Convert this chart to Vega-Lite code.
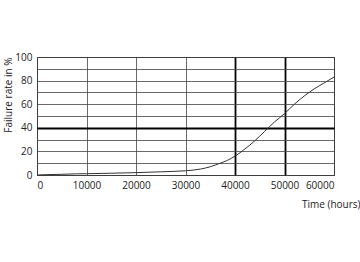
{
  "$schema": "https://vega.github.io/schema/vega-lite/v6.json",
  "width": 297,
  "height": 118,
  "autosize": {"type": "none"},
  "padding": {"left": 37, "top": 57, "right": 26, "bottom": 87},
  "background": "white",
  "config": {
    "view": {"stroke": "#222", "strokeWidth": 1},
    "font": "Open Sans",
    "axis": {"labelFont": "Open Sans", "titleFont": "Open Sans", "labelColor": "#222", "titleColor": "#222", "labelFontSize": 10, "titleFontSize": 10, "titleFontWeight": "normal", "ticks": false, "domain": false}
  },
  "data": {"values": [
    {"t": 0, "r": 0},
    {"t": 2000, "r": 0.3},
    {"t": 5000, "r": 0.6},
    {"t": 8000, "r": 1.0},
    {"t": 10000, "r": 1.1},
    {"t": 15000, "r": 1.5},
    {"t": 20000, "r": 2.0},
    {"t": 25000, "r": 2.7},
    {"t": 30000, "r": 3.6},
    {"t": 33000, "r": 5.0},
    {"t": 35000, "r": 7.0},
    {"t": 37000, "r": 10.0},
    {"t": 38500, "r": 12.5},
    {"t": 40000, "r": 16},
    {"t": 42000, "r": 22},
    {"t": 44000, "r": 29},
    {"t": 46000, "r": 37},
    {"t": 48000, "r": 45},
    {"t": 50000, "r": 52},
    {"t": 52000, "r": 60},
    {"t": 54000, "r": 67},
    {"t": 56000, "r": 73},
    {"t": 58000, "r": 78},
    {"t": 60000, "r": 83}
  ]},
  "mark": {"type": "line", "color": "#333", "strokeWidth": 1, "interpolate": "monotone"},
  "encoding": {
    "x": {
      "field": "t", "type": "quantitative",
      "scale": {"domain": [0, 60000], "nice": false},
      "axis": {
        "values": [0, 10000, 20000, 30000, 40000, 50000, 60000],
        "format": "d",
        "labelPadding": 5,
        "title": "Time (hours)",
        "titleAnchor": "end",
        "titleAlign": "right",
        "titleX": 323,
        "titleY": 32,
        "titleBaseline": "alphabetic",
        "grid": true,
        "gridColor": {"condition": {"test": "datum.value == 40000 || datum.value == 50000", "value": "#000"}, "value": "#444"},
        "gridWidth": {"condition": {"test": "datum.value == 40000 || datum.value == 50000", "value": 1.8}, "value": 0.8},
        "gridOpacity": 1
      }
    },
    "y": {
      "field": "r", "type": "quantitative",
      "scale": {"domain": [0, 100], "nice": false},
      "axis": {
        "values": [0, 10, 20, 30, 40, 50, 60, 70, 80, 90, 100],
        "labelExpr": "datum.value % 20 == 0 ? datum.label : ''",
        "labelPadding": 5,
        "title": "Failure rate in %",
        "titleAnchor": "end",
        "titleX": -29,
        "titleBaseline": "middle",
        "grid": true,
        "gridColor": {"condition": {"test": "datum.value == 40", "value": "#000"}, "value": "#444"},
        "gridWidth": {"condition": {"test": "datum.value == 40", "value": 1.8}, "value": 0.8},
        "gridOpacity": 1
      }
    }
  }
}
